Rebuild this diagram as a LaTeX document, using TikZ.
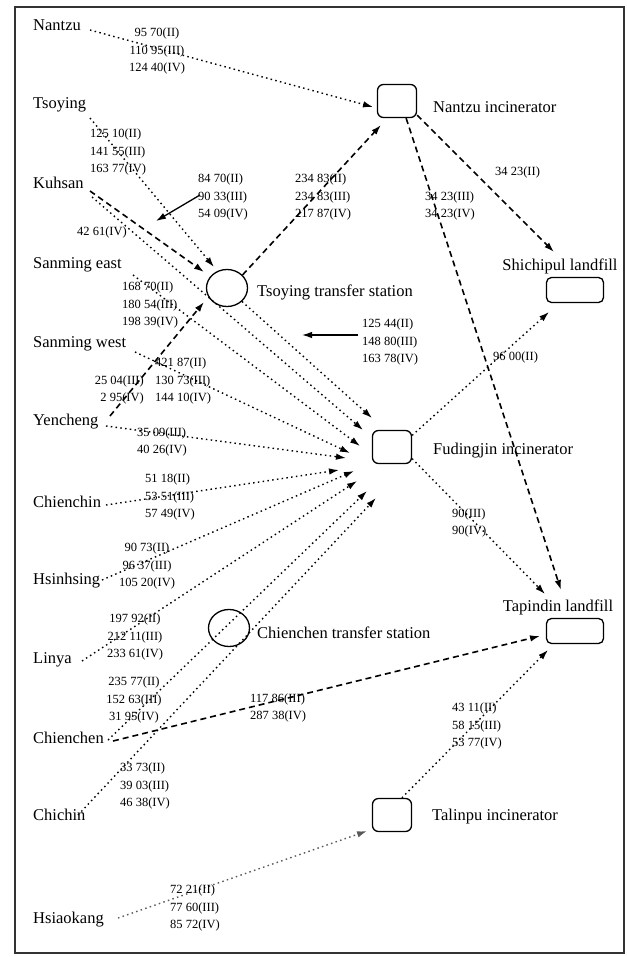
\documentclass[tikz,border=0pt]{standalone}
\usepackage{fontspec}
\setmainfont{Liberation Serif}
\usetikzlibrary{arrows.meta,shapes.geometric}

\tikzset{
  place/.style={anchor=west, inner sep=0pt, font=\fontsize{16.5}{18}\selectfont},
  facname/.style={anchor=west, inner sep=0pt, font=\fontsize{16.5}{18}\selectfont},
  num/.style={inner sep=0pt, font=\fontsize{12.5}{17.5}\selectfont},
  plant/.style={draw, line width=1.3pt, rounded corners=6pt, minimum width=39pt, minimum height=33pt, inner sep=0pt},
  landfill/.style={draw, line width=1.3pt, rounded corners=5pt, minimum width=57pt, minimum height=25pt, inner sep=0pt},
  station/.style={draw, line width=1.3pt, ellipse, minimum width=41pt, minimum height=37pt, inner sep=0pt},
  tip/.style={-{Latex[length=10pt,width=6.5pt]}},
  haul/.style={tip, line width=1.4pt, dash pattern=on 1.5pt off 3.3pt},
  trunk/.style={tip, line width=1.6pt, dash pattern=on 6pt off 4pt},
  leader/.style={tip, line width=1.3pt},
}

\begin{document}
\begin{tikzpicture}[x=1pt,y=-1pt]
\useasboundingbox (0,0) rectangle (626,957);
\draw[line width=1.4pt, black!80] (15,7) rectangle (624,953);

% facilities
\node[plant]    (nzi) at (397,101) {};
\node[facname]  (nzilab) at (433,107) {Nantzu incinerator};
\node[station]  (tst) at (227,288) {};
\node[facname]  (tstlab) at (257,292) {Tsoying transfer station};
\node[landfill] (shl) at (575,290) {};
\node[facname, anchor=center] (shllab) at (560,266) {Shichipul landfill};
\node[plant]    (fdi) at (392,447) {};
\node[facname]  (fdilab) at (433,451) {Fudingjin incinerator};
\node[landfill] (tpl) at (575,631) {};
\node[facname, anchor=center] (tpllab) at (558,607) {Tapindin landfill};
\node[station]  (cst) at (229,628) {};
\node[facname]  (cstlab) at (257,633) {Chienchen transfer station};
\node[plant]    (tli) at (392,815) {};
\node[facname]  (tlilab) at (432,817) {Talinpu incinerator};

% districts
\node[place] (nantzu)    at (33,25)  {Nantzu};
\node[place] (tsoying)   at (33,105) {Tsoying};
\node[place] (kuhsan)    at (33,183) {Kuhsan};
\node[place] (sanE)      at (33,265) {Sanming east};
\node[place] (sanW)      at (33,344) {Sanming west};
\node[place] (yencheng)  at (33,422) {Yencheng};
\node[place] (chienchin) at (33,502) {Chienchin};
\node[place] (hsinhsing) at (33,581) {Hsinhsing};
\node[place] (linya)     at (33,660) {Linya};
\node[place] (chienchen) at (33,738) {Chienchen};
\node[place] (chichin)   at (33,815) {Chichin};
\node[place] (hsiaokang) at (33,920) {Hsiaokang};

% route start points
\coordinate (s-nantzu)  at (90,30);
\coordinate (s-tsoying) at (90,118);
\coordinate (s-kuhA)    at (90,191);
\coordinate (s-kuhB)    at (92,197);
\coordinate (s-sanE)    at (133,275);
\coordinate (s-sanW)    at (135,352);
\coordinate (s-yenA)    at (106,426);
\coordinate (s-yenB)    at (110,416);
\coordinate (s-chienchin) at (106,505);
\coordinate (s-hsinhsing) at (102,580);
\coordinate (s-linya)   at (82,661);
\coordinate (s-cheA)    at (108,740);
\coordinate (s-cheB)    at (113,741);
\coordinate (s-chichin) at (78,815);
\coordinate (s-hsiao)   at (118,918);

% arrow tips
\coordinate (t-nzi1) at (373,107);
\coordinate (t-nzi2) at (381,125);
\coordinate (t-tst1) at (214,267);
\coordinate (t-tst2) at (204,272);
\coordinate (t-tst3) at (204,302);
\coordinate (t-fd1) at (372,418);
\coordinate (t-fd2) at (363,430);
\coordinate (t-fd3) at (360,446);
\coordinate (t-fd4) at (350,453);
\coordinate (t-fd5) at (346,458);
\coordinate (t-fd6) at (339,470);
\coordinate (t-fd7) at (354,471);
\coordinate (t-fd8) at (357,481);
\coordinate (t-fd9) at (367,491);
\coordinate (t-fd10) at (376,498);
\coordinate (t-shl1) at (554,252);
\coordinate (t-shl2) at (549,312);
\coordinate (t-tpl1) at (561,590);
\coordinate (t-tpl2) at (545,594);
\coordinate (t-tpl3) at (540,636);
\coordinate (t-tpl4) at (548,650);
\coordinate (t-tli) at (367,831);

% hauls to facilities
\draw[haul]  (s-nantzu) -- (t-nzi1);
\draw[haul]  (s-tsoying) -- (t-tst1);
\draw[trunk] (s-kuhA) -- (t-tst2);
\draw[haul]  (s-kuhB) -- (t-fd2);
\draw[haul]  (tst.-42) -- (t-fd1);
\draw[haul]  (s-sanE) -- (t-fd3);
\draw[haul]  (s-sanW) -- (t-fd4);
\draw[haul]  (s-yenA) -- (t-fd5);
\draw[trunk] (s-yenB) -- (t-tst3);
\draw[haul]  (s-chienchin) -- (t-fd6);
\draw[haul]  (s-hsinhsing) -- (t-fd7);
\draw[haul]  (s-linya) -- (t-fd8);
\draw[haul]  (s-cheA) -- (t-fd9);
\draw[trunk] (s-cheB) -- (t-tpl3);
\draw[haul]  (s-chichin) -- (t-fd10);
\draw[haul, black!65] (s-hsiao) -- (t-tli);

% transfers and residue
\draw[trunk] (tst.40) -- (t-nzi2);
\draw[trunk] (nzi.-35) -- (t-shl1);
\draw[trunk] (nzi.-62) -- (t-tpl1);
\draw[haul]  (fdi.30) -- (t-shl2);
\draw[haul]  (fdi.-30) -- (t-tpl2);
\draw[haul]  (tli.60) -- (t-tpl4);

% tonnage labels
\node[num, align=center] (n-nantzu) at (157,51) {95 70(II)\\110 95(III)\\124 40(IV)};
\node[num, align=left, anchor=west] (n-tsoying) at (90,152) {125 10(II)\\141 55(III)\\163 77(IV)};
\node[num, align=left, anchor=west] (n-kuhA) at (198,197) {84 70(II)\\90 33(III)\\54 09(IV)};
\node[num, anchor=west] (n-kuhB) at (77,232) {42 61(IV)};
\node[num, align=left, anchor=west] (n-tst) at (295,197) {234 83(II)\\234 83(III)\\217 87(IV)};
\node[num, anchor=west] (n-shl1) at (495,172) {34 23(II)};
\node[num, align=left, anchor=west] (n-tpl1) at (425,206) {34 23(III)\\34 23(IV)};
\node[num, align=left, anchor=west] (n-sanE) at (122,305) {168 70(II)\\180 54(III)\\198 39(IV)};
\node[num, align=left, anchor=west] (n-tstfd) at (362,342) {125 44(II)\\148 80(III)\\163 78(IV)};
\node[num, align=left, anchor=west] (n-sanW) at (155,381) {421 87(II)\\130 73(III)\\144 10(IV)};
\node[num, align=right, anchor=east] (n-yenB) at (144,390) {25 04(III)\\2 95(IV)};
\node[num, anchor=west] (n-shl2) at (493,357) {96 00(II)};
\node[num, align=left, anchor=west] (n-yenA) at (137,442) {35 09(III)\\40 26(IV)};
\node[num, align=left, anchor=west] (n-tpl2) at (452,523) {90(III)\\90(IV)};
\node[num, align=left, anchor=west] (n-chienchin) at (145,497) {51 18(II)\\53 51(III)\\57 49(IV)};
\node[num, align=center] (n-hsinhsing) at (147,566) {90 73(II)\\96 37(III)\\105 20(IV)};
\node[num, align=center] (n-linya) at (135,637) {197 92(II)\\212 11(III)\\233 61(IV)};
\node[num, align=center] (n-cheA) at (134,700) {235 77(II)\\152 63(III)\\31 95(IV)};
\node[num, align=left, anchor=west] (n-cheB) at (250,708) {117 86(III)\\287 38(IV)};
\node[num, align=left, anchor=west] (n-tpl4) at (452,726) {43 11(II)\\58 15(III)\\53 77(IV)};
\node[num, align=left, anchor=west] (n-chichin) at (120,786) {33 73(II)\\39 03(III)\\46 38(IV)};
\node[num, align=left, anchor=west] (n-hsiao) at (170,908) {72 21(II)\\77 60(III)\\85 72(IV)};

% leader arrows from labels to their routes
\coordinate (l-kuh) at (156,221);
\coordinate (l-tstfd) at (302,335);
\draw[leader] (n-kuhA.west) ++(2,-2) coordinate (l-kuh0) -- (l-kuh);
\draw[leader] (n-tstfd.west) ++(-4,-7) coordinate (l-tstfd0) -- (l-tstfd);
\end{tikzpicture}
\end{document}
